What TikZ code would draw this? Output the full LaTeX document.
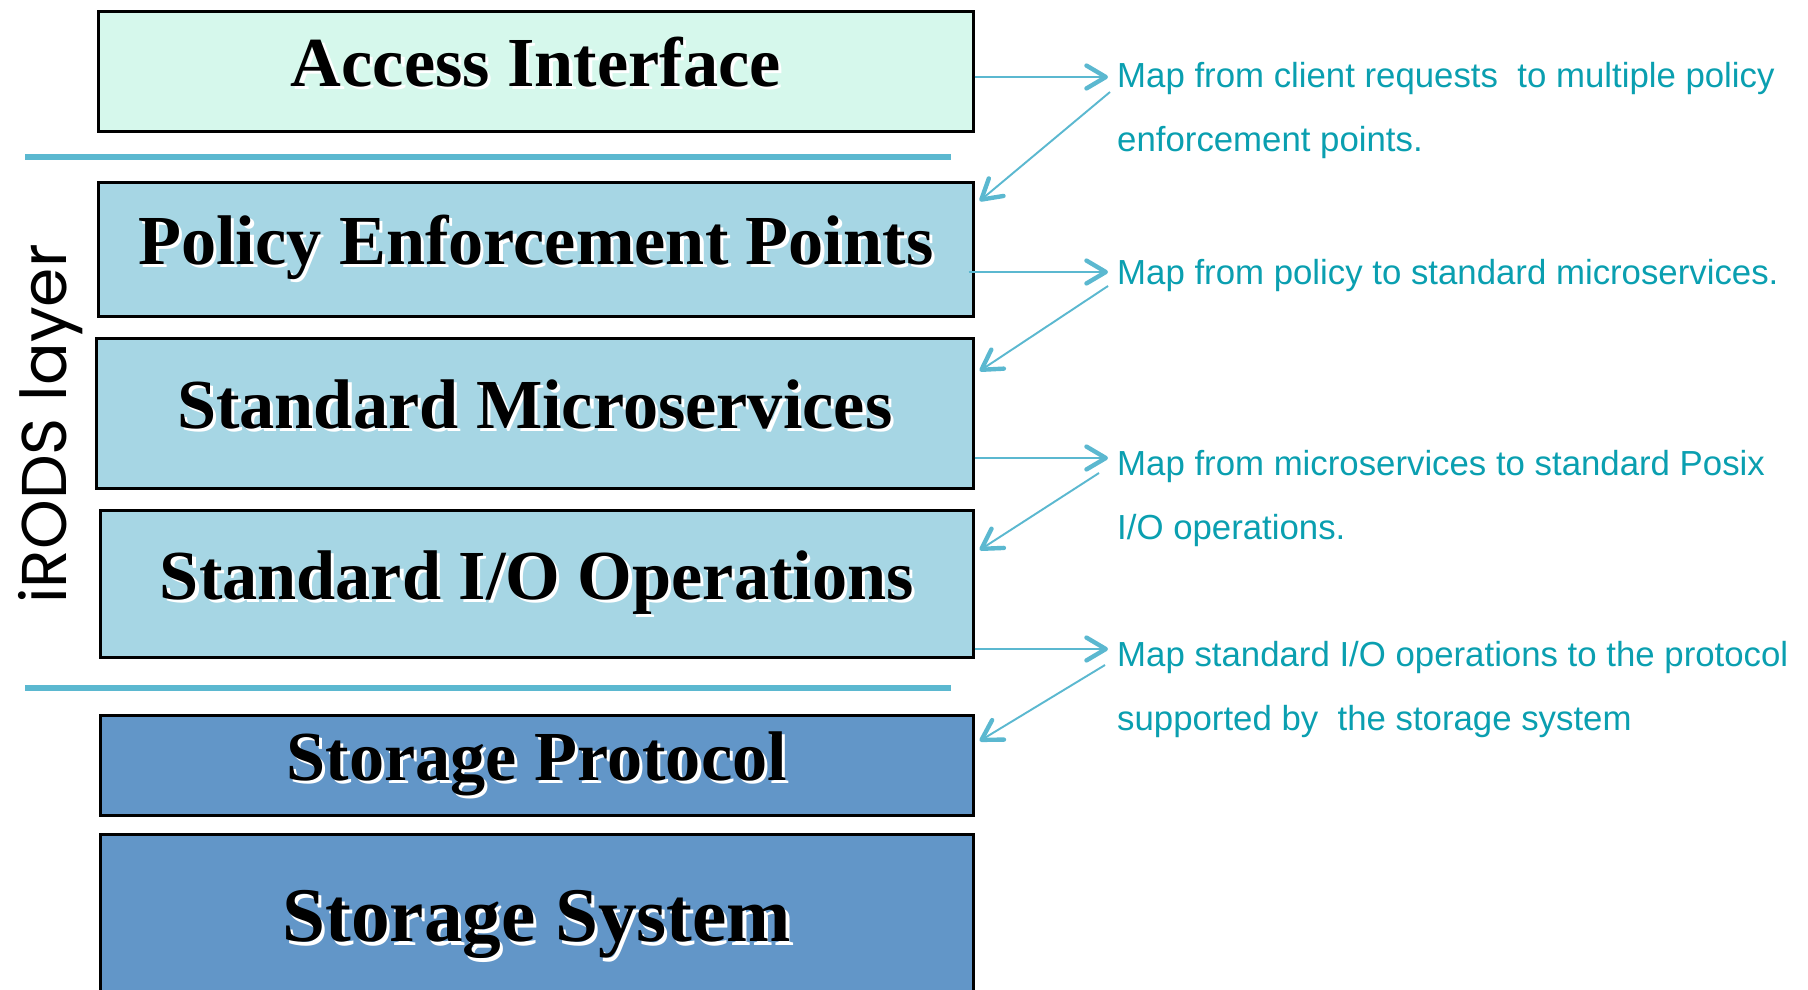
\documentclass[tikz,border=0pt]{standalone}
\usepackage{fontspec}
\setmainfont{Liberation Serif}
\newfontfamily\notefont{Liberation Sans}
\newfontfamily\layerfont{Poppins}
\usepackage{tikz}
\usetikzlibrary{calc, arrows.meta, positioning}

\definecolor{mint}{HTML}{D6F8EC}
\definecolor{paleblue}{HTML}{A6D6E4}
\definecolor{steel}{HTML}{6296C8}
\definecolor{sepline}{HTML}{5BB8D0}
\definecolor{arrowc}{HTML}{5BB8D0}
\definecolor{notec}{HTML}{0A9FB0}

\newcommand{\glow}[1]{\makebox[0pt][l]{\hspace{1.8pt}\raisebox{-1.8pt}{\color{white}#1}}#1}

\begin{document}
\begin{tikzpicture}[x=0.02cm,y=-0.02cm,
    layer/.style={draw=black, line width=1.6pt, inner sep=0pt, anchor=north west,
      text height=0.93cm, text depth=0.32cm, font=\fontsize{40}{44}\selectfont\bfseries},
    note/.style={anchor=mid west, text=notec, font=\notefont\fontsize{19.8}{24}\selectfont},
    link/.style={draw=arrowc, line width=1.1pt,
      -{Straight Barb[length=11pt,width=13pt,line width=2.5pt,round]}},
    sep/.style={draw=sepline, line width=3.4pt}]
        \useasboundingbox (0,0) rectangle (1808,990);

        \node[layer, fill=mint, minimum width=17.5cm, minimum height=2.4cm] (ai) at (97,10) {\glow{Access Interface}};
        \node[layer, fill=paleblue, minimum width=17.5cm, minimum height=2.68cm] (pep) at (97,181) {\glow{Policy Enforcement Points}};
        \node[layer, fill=paleblue, minimum width=17.54cm, minimum height=3.0cm] (msv) at (95,337) {\glow{Standard Microservices}};
        \node[layer, fill=paleblue, minimum width=17.46cm, minimum height=2.94cm] (sio) at (99,509) {\glow{Standard I/O Operations}};
        \node[layer, fill=steel, minimum width=17.46cm, minimum height=2.0cm] (spr) at (99,714) {\glow{Storage Protocol}};
        \node[layer, fill=steel, minimum width=17.46cm, minimum height=3.6cm, text height=1.02cm,
          font=\fontsize{44}{48}\selectfont\bfseries] (ssy) at (99,833) {\glow{Storage System}};

        \coordinate (s1a) at (25,157);
        \coordinate (s1b) at (951,157);
        \draw[sep] (s1a) -- (s1b);
        \coordinate (s2a) at (25,688);
        \coordinate (s2b) at (951,688);
        \draw[sep] (s2a) -- (s2b);

        \node[rotate=90, anchor=base, font=\layerfont\fontsize{36}{40}\selectfont] (lay) at (66,424) {iRODS layer};

        \node[note] (t1a) at (1111,83) {Map from client requests\ \ to multiple policy};
        \node[note] (t1b) at (1111,147) {enforcement points.};
        \node[note] (t2a) at (1111,280) {Map from policy to standard microservices.};
        \node[note] (t3a) at (1111,471) {Map from microservices to standard Posix};
        \node[note] (t3b) at (1111,535) {I/O operations.};
        \node[note] (t4a) at (1111,662) {Map standard I/O operations to the protocol};
        \node[note] (t4b) at (1111,726) {supported by\ \ the storage system};

        \coordinate (a1) at ($(t1a.mid west)+(-3,-6)$);
        \coordinate (d1) at ($(a1)+(2,15)$);
        \coordinate (a2) at ($(t2a.mid west)+(-3,-8)$);
        \coordinate (d2) at ($(a2)+(0,14)$);
        \coordinate (a3) at ($(t3a.mid west)+(-3,-13)$);
        \coordinate (d3) at ($(a3)+(-9,15)$);
        \coordinate (a4) at ($(t4a.mid west)+(-3,-13)$);
        \coordinate (d4) at ($(a4)+(-3,16)$);

        \draw[link] (ai.east |- a1) -- (a1);
        \draw[link] (d1) -- ($(pep.north east)+(5,20)$);
        \draw[link] ($(pep.east |- a2)+(-6,0)$) -- (a2);
        \draw[link] (d2) -- ($(msv.north east)+(5,34)$);
        \draw[link] (msv.east |- a3) -- (a3);
        \draw[link] (d3) -- ($(sio.north east)+(5,41)$);
        \draw[link] (sio.east |- a4) -- (a4);
        \draw[link] (d4) -- ($(spr.north east)+(5,27)$);
    \end{tikzpicture}
\end{document}
